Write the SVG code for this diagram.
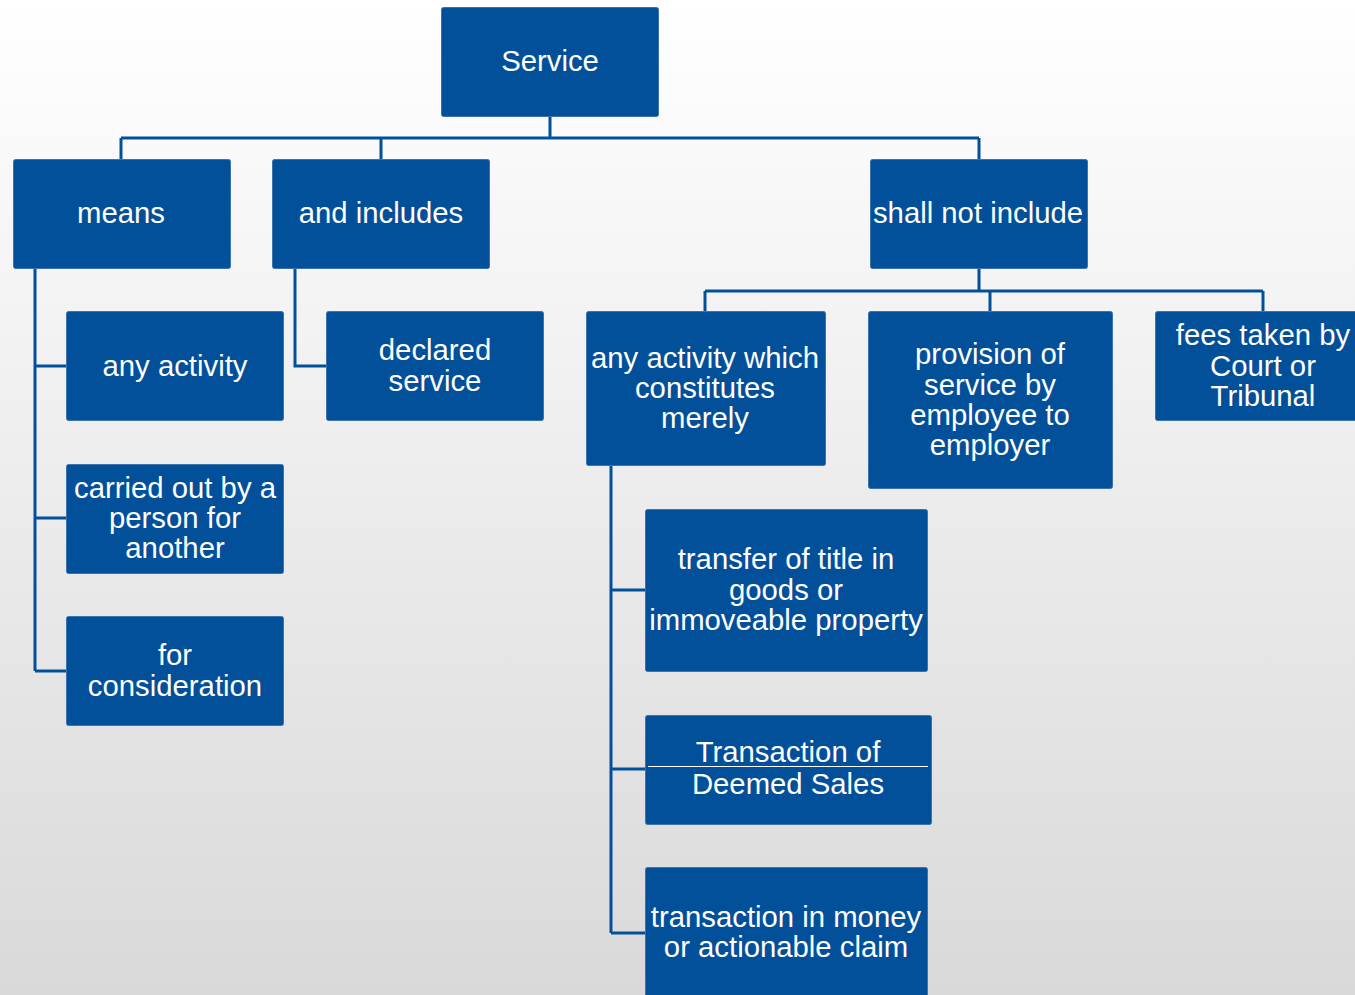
<svg xmlns="http://www.w3.org/2000/svg" width="1355" height="995" viewBox="0 0 1355 995">
<defs>
<linearGradient id="bg" x1="0" y1="0" x2="0" y2="1">
<stop offset="0" stop-color="#ffffff"/>
<stop offset="1" stop-color="#d9d9d9"/>
</linearGradient>
<style>
.box{fill:#03509a;stroke:#3b74ad;stroke-width:1}
.t{font-family:"Liberation Sans",Arial,sans-serif;font-size:29.3px;fill:#ffffff;text-anchor:middle}
.c{fill:none;stroke:#03509a;stroke-width:3}
</style>
</defs>
<rect x="0" y="0" width="1355" height="995" fill="url(#bg)"/>
<g id="connectors">
<path class="c" d="M550 116V138M121 138H979M121 138V159M381 138V159M979 138V159"/>
<path class="c" d="M35 268V671M35 366H66M35 518H66M35 671H66"/>
<path class="c" d="M295 268V366H326"/>
<path class="c" d="M979 268V291M705 291H1263M705 291V311M990 291V311M1263 291V311"/>
<path class="c" d="M611 466V933M611 590H645M611 769H645M611 933H645"/>
</g>
<g id="service"><rect class="box" x="441.5" y="7.5" width="217" height="109" rx="2"/><text class="t" x="550" y="71">Service</text></g>
<g id="means"><rect class="box" x="13.5" y="159.5" width="217" height="109" rx="2"/><text class="t" x="121" y="223">means</text></g>
<g id="and-includes"><rect class="box" x="272.5" y="159.5" width="217" height="109" rx="2"/><text class="t" x="381" y="223">and includes</text></g>
<g id="shall-not-include"><rect class="box" x="870.5" y="159.5" width="217" height="109" rx="2"/><text class="t" x="978" y="223">shall not include</text></g>
<g id="any-activity"><rect class="box" x="66.5" y="311.5" width="217" height="109" rx="2"/><text class="t" x="175" y="376">any activity</text></g>
<g id="carried-out"><rect class="box" x="66.5" y="464.5" width="217" height="109" rx="2"/><text class="t" x="175" y="498">carried out by a</text><text class="t" x="175" y="528">person for</text><text class="t" x="175" y="558">another</text></g>
<g id="for-consideration"><rect class="box" x="66.5" y="616.5" width="217" height="109" rx="2"/><text class="t" x="175" y="665">for</text><text class="t" x="175" y="696">consideration</text></g>
<g id="declared-service"><rect class="box" x="326.5" y="311.5" width="217" height="109" rx="2"/><text class="t" x="435" y="360">declared</text><text class="t" x="435" y="391">service</text></g>
<g id="any-activity-which"><rect class="box" x="586.5" y="311.5" width="239" height="154" rx="2"/><text class="t" x="705" y="368">any activity which</text><text class="t" x="705" y="398">constitutes</text><text class="t" x="705" y="428">merely</text></g>
<g id="provision"><rect class="box" x="868.5" y="311.5" width="244" height="177" rx="2"/><text class="t" x="990" y="364">provision of</text><text class="t" x="990" y="395">service by</text><text class="t" x="990" y="425">employee to</text><text class="t" x="990" y="455">employer</text></g>
<g id="fees"><rect class="box" x="1155.5" y="311.5" width="217" height="109" rx="2"/><text class="t" x="1263" y="345">fees taken by</text><text class="t" x="1263" y="376">Court or</text><text class="t" x="1263" y="406">Tribunal</text></g>
<g id="transfer"><rect class="box" x="645.5" y="509.5" width="282" height="162" rx="2"/><text class="t" x="786" y="569">transfer of title in</text><text class="t" x="786" y="600">goods or</text><text class="t" x="786" y="630">immoveable property</text></g>
<g id="deemed-sales"><rect class="box" x="645.5" y="715.5" width="286" height="109" rx="2"/><text class="t" x="788" y="762">Transaction of</text><line x1="648" y1="766.5" x2="928" y2="766.5" stroke="#ffffff" stroke-width="1"/><text class="t" x="788" y="794">Deemed Sales</text></g>
<g id="money"><rect class="box" x="645.5" y="867.5" width="282" height="140" rx="2"/><text class="t" x="786" y="927">transaction in money</text><text class="t" x="786" y="957">or actionable claim</text></g>
</svg>
